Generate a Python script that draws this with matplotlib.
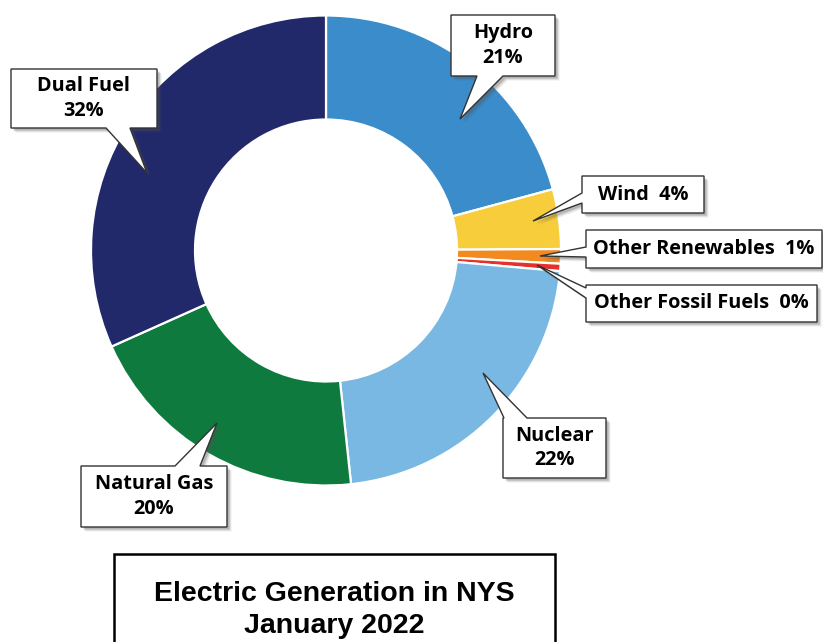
"""Donut chart of NYS electric generation mix, January 2022, with callout labels."""
import matplotlib
matplotlib.use('Agg')
import matplotlib.pyplot as plt
from matplotlib.patches import Polygon, Rectangle

# ── Data ─────────────────────────────────────────────────────────────────────
SOURCES = ["Hydro", "Wind", "Other Renewables", "Other Fossil Fuels",
           "Nuclear", "Natural Gas", "Dual Fuel"]
SHARES = [20.8, 4.1, 1.0, 0.5, 21.9, 20.0, 31.7]
PCT_LABELS = ["21%", "4%", "1%", "0%", "22%", "20%", "32%"]
COLORS = ["#3a8ccb", "#f7cd3c", "#f28a1f", "#e5312a",
          "#7ab8e4", "#0e7a3d", "#21296a"]

# ── Layout (pixel coordinates, y measured downward from top) ─────────────────
W, H = 823, 642
CX, CY = 326, 250.5
R_OUT, R_IN = 235, 131

# box (x0, y0, x1, y1), tail side, tail base (a, b), tail tip, two-line?
CALLOUTS = {
    "Hydro":              ((451, 15, 555, 76),   "bottom", (477, 503), (460, 119), True),
    "Wind":               ((582, 176, 704, 213), "left",   (193, 203), (533, 221), False),
    "Other Renewables":   ((586, 230, 822, 268), "left",   (247, 257), (540, 256), False),
    "Other Fossil Fuels": ((586, 285, 817, 322), "left",   (288, 298), (537, 265), False),
    "Nuclear":            ((503, 418, 606, 478), "top",    (504, 527), (483, 373), True),
    "Natural Gas":        ((81, 466, 227, 527),  "top",    (175, 200), (217, 423), True),
    "Dual Fuel":          ((11, 69, 157, 128),   "bottom", (106, 130), (147, 173), True),
}


def Y(py):
    return H - py


def callout_outline(box, side, base, tip):
    x0, y0, x1, y1 = box
    a, b = base
    pts = [(x0, y0)]
    if side == "top":
        pts += [(a, y0), tip, (b, y0)]
    pts += [(x1, y0), (x1, y1)]
    if side == "bottom":
        pts += [(b, y1), tip, (a, y1)]
    pts += [(x0, y1)]
    if side == "left":
        pts += [(x0, b), tip, (x0, a)]
    return [(px, Y(py)) for px, py in pts]


fig = plt.figure(figsize=(W / 100, H / 100), dpi=100)
ax = fig.add_axes([0, 0, 1, 1])
fig.patch.set_facecolor('white')

ax.pie(SHARES, colors=COLORS, startangle=90, counterclock=False,
       center=(CX, Y(CY)), radius=R_OUT,
       wedgeprops=dict(width=R_OUT - R_IN, edgecolor='white', linewidth=1.6))

ax.set_xlim(0, W)
ax.set_ylim(0, H)
ax.set_aspect('equal')
ax.axis('off')

LABEL_FONT = dict(family='Open Sans', fontweight='bold', color='black')

for name, pct in zip(SOURCES, PCT_LABELS):
    box, side, base, tip, two_line = CALLOUTS[name]
    outline = callout_outline(box, side, base, tip)

    # soft drop shadow
    for off, alpha in [(4.5, 0.10), (3.5, 0.15), (2.5, 0.25)]:
        shadow = [(x + off, y - off) for x, y in outline]
        ax.add_patch(Polygon(shadow, closed=True, facecolor='#555555',
                             edgecolor='none', alpha=alpha, zorder=3))
    ax.add_patch(Polygon(outline, closed=True, facecolor='white',
                         edgecolor='#333333', linewidth=1.0, zorder=4,
                         joinstyle='miter'))

    x0, y0, x1, y1 = box
    xc, yc = (x0 + x1) / 2, Y((y0 + y1) / 2)
    text = f"{name}\n{pct}" if two_line else f"{name}  {pct}"
    ax.text(xc, yc, text, ha='center', va='center', fontsize=14.3,
            linespacing=1.3, zorder=5, **LABEL_FONT)

# ── Title box ────────────────────────────────────────────────────────────────
ax.add_patch(Rectangle((114, Y(660)), 555 - 114, 660 - 554,
                       facecolor='white', edgecolor='black', linewidth=1.8,
                       zorder=2))
ax.text(334.5, Y(601), "Electric Generation in NYS", ha='center',
        va='baseline', fontsize=20.5, fontweight='bold',
        family='Liberation Sans', zorder=5)
ax.text(334.5, Y(633), "January 2022", ha='center',
        va='baseline', fontsize=20.5, fontweight='bold',
        family='Liberation Sans', zorder=5)

plt.savefig("out.png", dpi=100, facecolor='white')
